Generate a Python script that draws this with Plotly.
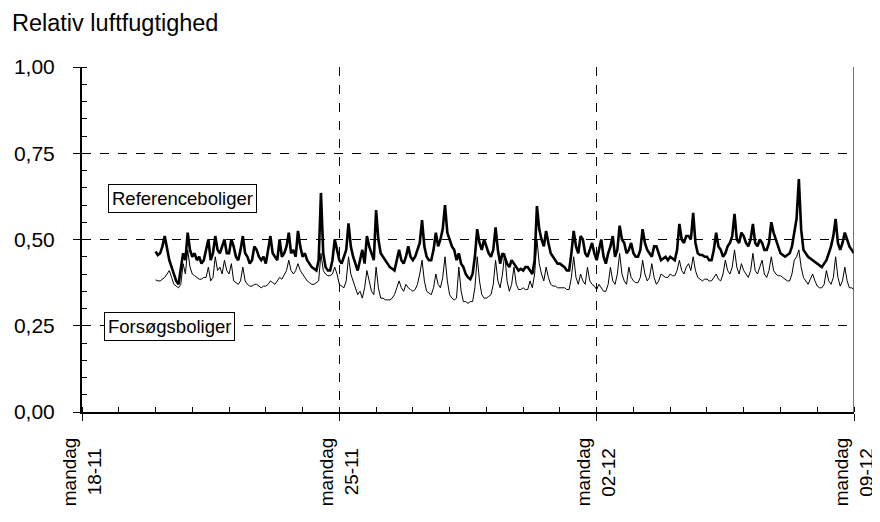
import pandas as pd
import plotly.graph_objects as go

# --- data (90-minute readings, from 20-11-2002 00:00 to 09-12-2002 00:00) ---
start_time = "2002-11-20 00:00"
step = "90min"

ref_rh = [
    0.465, 0.455, 0.46, 0.48, 0.51, 0.47, 0.44, 0.42, 0.40, 0.38, 0.37, 0.41, 0.46, 0.44, 0.52, 0.47,
    0.45, 0.46, 0.44, 0.45, 0.43, 0.44, 0.47, 0.50, 0.44, 0.46, 0.51, 0.47, 0.46, 0.48, 0.50, 0.46,
    0.46, 0.50, 0.48, 0.45, 0.44, 0.47, 0.51, 0.46, 0.45, 0.43, 0.44, 0.48, 0.47, 0.45, 0.44, 0.45,
    0.43, 0.47, 0.51, 0.46, 0.45, 0.44, 0.50, 0.45, 0.46, 0.48, 0.52, 0.46, 0.47, 0.45, 0.525, 0.48,
    0.45, 0.46, 0.44, 0.43, 0.42, 0.415, 0.41, 0.44, 0.635, 0.46, 0.42, 0.41, 0.41, 0.44, 0.50, 0.47,
    0.44, 0.43, 0.45, 0.47, 0.547, 0.48, 0.45, 0.43, 0.41, 0.44, 0.47, 0.43, 0.51, 0.48, 0.46, 0.44,
    0.585, 0.50, 0.46, 0.45, 0.44, 0.43, 0.42, 0.415, 0.41, 0.44, 0.47, 0.44, 0.43, 0.45, 0.48, 0.45,
    0.44, 0.45, 0.47, 0.49, 0.556, 0.48, 0.45, 0.44, 0.44, 0.47, 0.52, 0.48, 0.50, 0.53, 0.60, 0.52,
    0.50, 0.48, 0.47, 0.44, 0.46, 0.43, 0.42, 0.40, 0.39, 0.385, 0.40, 0.45, 0.53, 0.49, 0.47, 0.50,
    0.48, 0.46, 0.45, 0.47, 0.535, 0.47, 0.43, 0.46, 0.45, 0.43, 0.42, 0.44, 0.43, 0.42, 0.41, 0.415,
    0.41, 0.42, 0.42, 0.41, 0.40, 0.44, 0.597, 0.53, 0.50, 0.48, 0.525, 0.49, 0.46, 0.45, 0.44, 0.43,
    0.43, 0.425, 0.42, 0.41, 0.41, 0.46, 0.525, 0.48, 0.46, 0.51, 0.50, 0.46, 0.45, 0.47, 0.49, 0.46,
    0.44, 0.47, 0.50, 0.45, 0.43, 0.46, 0.48, 0.51, 0.45, 0.47, 0.54, 0.50, 0.49, 0.46, 0.47, 0.49,
    0.46, 0.45, 0.45, 0.47, 0.53, 0.49, 0.47, 0.46, 0.45, 0.48, 0.48, 0.46, 0.44, 0.445, 0.45, 0.44,
    0.45, 0.445, 0.44, 0.47, 0.545, 0.50, 0.49, 0.51, 0.51, 0.50, 0.577, 0.49, 0.46, 0.455, 0.455, 0.45,
    0.45, 0.44, 0.44, 0.47, 0.52, 0.48, 0.47, 0.45, 0.46, 0.48, 0.49, 0.51, 0.574, 0.50, 0.49, 0.52,
    0.51, 0.49, 0.48, 0.50, 0.545, 0.49, 0.48, 0.50, 0.49, 0.47, 0.47, 0.49, 0.55, 0.52, 0.50, 0.48,
    0.46, 0.455, 0.45, 0.455, 0.46, 0.48, 0.52, 0.56, 0.675, 0.53, 0.47, 0.46, 0.45, 0.445, 0.44, 0.435,
    0.43, 0.425, 0.42, 0.43, 0.44, 0.46, 0.48, 0.51, 0.56, 0.49, 0.47, 0.49, 0.52, 0.50, 0.48, 0.47,
    0.46,
]

forsog_rh = [
    0.383, 0.38, 0.38, 0.385, 0.39, 0.40, 0.41, 0.39, 0.37, 0.365, 0.36, 0.37, 0.43, 0.40, 0.47, 0.42,
    0.40, 0.395, 0.39, 0.385, 0.385, 0.39, 0.39, 0.42, 0.38, 0.39, 0.45, 0.41, 0.42, 0.40, 0.44, 0.41,
    0.40, 0.43, 0.38, 0.375, 0.37, 0.38, 0.42, 0.38, 0.37, 0.365, 0.365, 0.37, 0.37, 0.365, 0.36, 0.365,
    0.365, 0.37, 0.38, 0.375, 0.37, 0.38, 0.39, 0.385, 0.40, 0.41, 0.44, 0.41, 0.40, 0.41, 0.43, 0.41,
    0.40, 0.39, 0.38, 0.375, 0.37, 0.37, 0.375, 0.38, 0.46, 0.41, 0.40, 0.395, 0.395, 0.40, 0.42, 0.40,
    0.37, 0.365, 0.36, 0.38, 0.45, 0.40, 0.38, 0.36, 0.34, 0.35, 0.33, 0.36, 0.41, 0.38, 0.35, 0.34,
    0.42, 0.36, 0.33, 0.33, 0.325, 0.325, 0.325, 0.33, 0.34, 0.36, 0.38, 0.36, 0.35, 0.37, 0.36, 0.355,
    0.35, 0.355, 0.37, 0.40, 0.44, 0.38, 0.35, 0.345, 0.34, 0.36, 0.40, 0.37, 0.36, 0.39, 0.45, 0.38,
    0.34, 0.33, 0.325, 0.33, 0.42, 0.35, 0.32, 0.32, 0.315, 0.32, 0.32, 0.36, 0.45, 0.38, 0.34, 0.33,
    0.33, 0.335, 0.34, 0.37, 0.44, 0.38, 0.36, 0.40, 0.46, 0.38, 0.35, 0.37, 0.42, 0.37, 0.355, 0.355,
    0.36, 0.355, 0.355, 0.38, 0.36, 0.40, 0.50, 0.43, 0.40, 0.38, 0.42, 0.39, 0.37, 0.365, 0.365, 0.36,
    0.36, 0.36, 0.36, 0.355, 0.355, 0.39, 0.45, 0.39, 0.37, 0.40, 0.38, 0.37, 0.42, 0.38, 0.37, 0.365,
    0.355, 0.37, 0.36, 0.35, 0.35, 0.37, 0.42, 0.38, 0.37, 0.40, 0.46, 0.40, 0.38, 0.37, 0.42, 0.39,
    0.38, 0.375, 0.375, 0.39, 0.44, 0.40, 0.38, 0.39, 0.43, 0.39, 0.37, 0.38, 0.40, 0.395, 0.39, 0.39,
    0.40, 0.395, 0.395, 0.41, 0.44, 0.41, 0.40, 0.42, 0.43, 0.41, 0.45, 0.41, 0.39, 0.385, 0.38, 0.385,
    0.385, 0.38, 0.38, 0.39, 0.40, 0.385, 0.38, 0.40, 0.44, 0.41, 0.40, 0.42, 0.47, 0.42, 0.40, 0.43,
    0.41, 0.40, 0.39, 0.41, 0.46, 0.41, 0.40, 0.42, 0.44, 0.40, 0.39, 0.41, 0.45, 0.41, 0.40, 0.395,
    0.395, 0.39, 0.385, 0.38, 0.38, 0.40, 0.44, 0.45, 0.47, 0.42, 0.39, 0.38, 0.37, 0.385, 0.40, 0.38,
    0.365, 0.36, 0.36, 0.37, 0.41, 0.38, 0.37, 0.39, 0.45, 0.39, 0.365, 0.38, 0.42, 0.38, 0.36, 0.36,
    0.355,
]

x_tick_dates = ["2002-11-18", "2002-11-25", "2002-12-02", "2002-12-09"]
x_tick_labels = ["mandag<br>18-11&nbsp;&nbsp;", "mandag<br>25-11&nbsp;&nbsp;",
                 "mandag<br>02-12&nbsp;&nbsp;", "mandag<br>09-12&nbsp;&nbsp;"]
y_tick_vals = [0.0, 0.25, 0.5, 0.75, 1.0]

series_names = ["Referenceboliger", "Forsøgsboliger"]
title_text = "Relativ luftfugtighed"

times = pd.date_range(start_time, periods=len(ref_rh), freq=step)

FONT = "Liberation Sans, Arial, sans-serif"

fig = go.Figure()
fig.add_trace(go.Scatter(x=times, y=forsog_rh, mode="lines", name=series_names[1],
                         line=dict(color="black", width=1)))
fig.add_trace(go.Scatter(x=times, y=ref_rh, mode="lines", name=series_names[0],
                         line=dict(color="black", width=2.6)))

# the page adds an 8px body margin, so the figure is sized to fit the window after it
fig.update_layout(
    width=872, height=514,
    margin=dict(l=74, r=26, t=59, b=110),
    paper_bgcolor="white", plot_bgcolor="white",
    showlegend=False,
    separators=", ",
    font=dict(family=FONT, color="black", size=20),
)

fig.update_xaxes(
    type="date",
    range=[x_tick_dates[0], x_tick_dates[-1]],
    tickmode="array", tickvals=x_tick_dates, ticktext=x_tick_labels,
    tickangle=-90,
    ticks="outside", ticklen=7, tickcolor="black", tickwidth=1,
    minor=dict(ticks="inside", dtick=86400000, ticklen=5, tickcolor="black", showgrid=False),
    showline=True, linecolor="black", linewidth=2,
    showgrid=True, gridcolor="black", griddash="dash", gridwidth=1,
    tickfont=dict(family=FONT, size=19, color="black"),
    ticklabelstandoff=9,
    automargin=False,
    zeroline=False,
)

fig.update_yaxes(
    range=[0, 1],
    tickmode="array", tickvals=y_tick_vals, tickformat=".2f",
    ticks="outside", ticklen=7, tickcolor="black", tickwidth=1,
    minor=dict(ticks="inside", dtick=0.05, ticklen=5, tickcolor="black", showgrid=False),
    showline=True, linecolor="black", linewidth=2,
    showgrid=True, gridcolor="black", griddash="dash", gridwidth=1,
    tickfont=dict(family=FONT, size=21, color="black"),
    ticklabelstandoff=14,
    automargin=False,
    zeroline=False,
)

# solid right edge at the last date
fig.add_shape(type="line", xref="x", yref="paper", x0=x_tick_dates[-1], x1=x_tick_dates[-1],
              y0=0, y1=1, line=dict(color="#444", width=1.5))

# chart title (top-left)
fig.add_annotation(text=title_text, xref="paper", yref="paper",
                   x=(10 - 82) / 772, y=(412 - 23) / 345, xanchor="left", yanchor="middle",
                   showarrow=False, font=dict(family=FONT, size=23.5, color="black"))

fig.add_annotation(text=series_names[0], xref="paper", yref="y",
                   x=(108 - 82) / 772, y=0.62, xanchor="left", yanchor="middle",
                   showarrow=False, bgcolor="white", bordercolor="black", borderwidth=1,
                   borderpad=3, font=dict(family=FONT, size=18.5, color="black"))
fig.add_annotation(text=series_names[1], xref="paper", yref="y",
                   x=(104 - 82) / 772, y=0.249, xanchor="left", yanchor="middle",
                   showarrow=False, bgcolor="white", bordercolor="black", borderwidth=1,
                   borderpad=3, font=dict(family=FONT, size=18.5, color="black"))

fig.write_html("out.html")
